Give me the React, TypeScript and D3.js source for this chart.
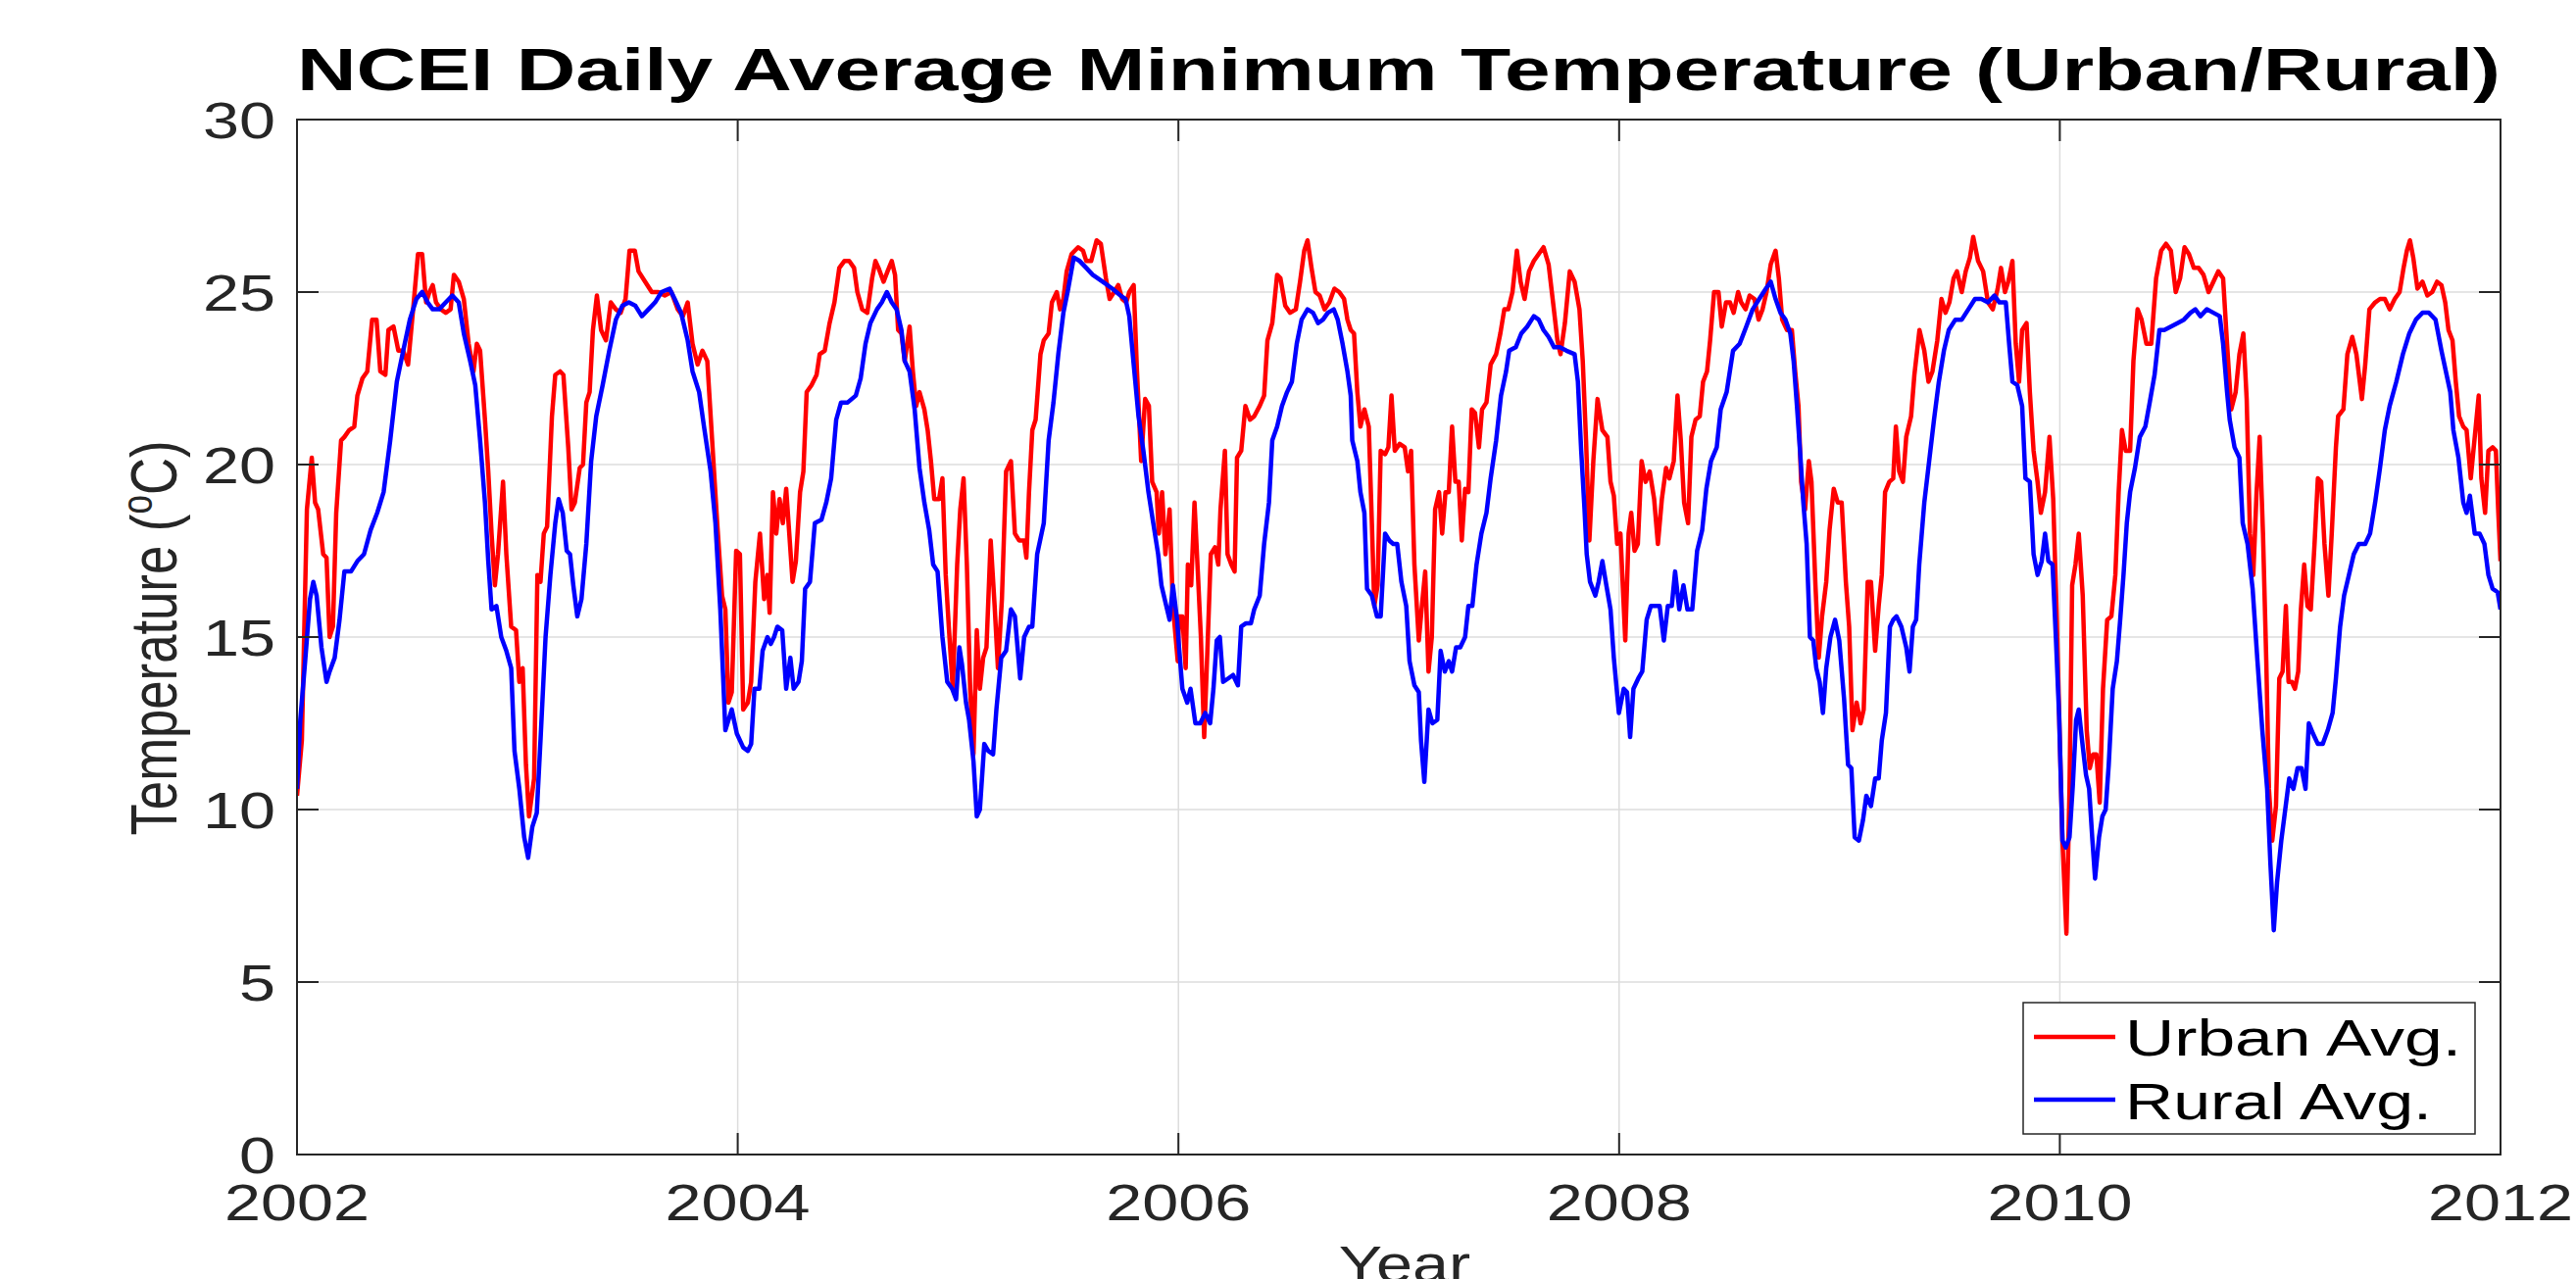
import React from "react";
import * as d3 from "d3";

type P = [number, number];

// [offset in years from block start, °C]
const urban2002: P[] = [[0.000,10.4],[0.022,12.0],[0.045,18.7],[0.067,20.2],[0.082,18.9],[0.096,18.7],[0.119,17.4],[0.134,17.3],[0.148,15.0],[0.163,15.3],[0.178,18.6],[0.200,20.7],[0.215,20.8],[0.237,21.0],[0.260,21.1],[0.274,22.0],[0.297,22.5],[0.319,22.7],[0.341,24.2],[0.361,24.2],[0.378,22.7],[0.401,22.6],[0.415,23.9],[0.438,24.0],[0.460,23.3],[0.482,23.3],[0.504,22.9],[0.527,24.5],[0.549,26.1],[0.568,26.1],[0.586,24.7],[0.601,25.0],[0.616,25.2],[0.631,24.7],[0.653,24.5],[0.675,24.4],[0.697,24.5],[0.712,25.5],[0.734,25.3],[0.757,24.8],[0.779,23.5],[0.801,22.7],[0.816,23.5],[0.831,23.3],[0.853,21.3],[0.868,19.8],[0.883,18.0],[0.898,16.5],[0.912,17.4],[0.935,19.5],[0.950,17.4],[0.972,15.3],[0.994,15.2],[1.009,13.7],[1.024,14.1],[1.039,11.3],[1.053,9.8],[1.076,10.9],[1.091,16.8],[1.105,16.6],[1.120,18.0],[1.135,18.2],[1.157,21.4],[1.172,22.6],[1.194,22.7],[1.209,22.6],[1.231,20.5],[1.246,18.7],[1.261,18.9],[1.283,19.9],[1.298,20.0],[1.313,21.8],[1.328,22.1],[1.343,23.9],[1.361,24.9],[1.380,23.9],[1.402,23.6],[1.424,24.7],[1.447,24.5],[1.469,24.4],[1.491,24.8],[1.509,26.2],[1.533,26.2],[1.550,25.6],[1.580,25.3],[1.610,25.0],[1.639,25.0],[1.669,24.9],[1.699,25.0],[1.728,24.5],[1.751,24.3],[1.773,24.7],[1.795,23.5],[1.818,22.9],[1.840,23.3],[1.862,23.0],[1.884,20.7],[1.907,18.3],[1.929,16.2],[1.944,15.8],[1.958,13.1],[1.973,13.4],[1.993,17.5],[2.010,17.4],[2.025,12.9]];
const urban2004: P[] = [[0.046,13.1],[0.061,13.7],[0.080,16.6],[0.101,18.0],[0.120,16.1],[0.135,16.8],[0.145,15.7],[0.160,19.2],[0.175,18.0],[0.190,19.0],[0.205,18.3],[0.220,19.3],[0.234,18.0],[0.249,16.6],[0.264,17.2],[0.283,19.2],[0.298,19.8],[0.313,22.1],[0.335,22.3],[0.358,22.6],[0.372,23.2],[0.395,23.3],[0.417,24.1],[0.439,24.7],[0.461,25.7],[0.484,25.9],[0.506,25.9],[0.528,25.7],[0.543,25.0],[0.565,24.5],[0.588,24.4],[0.610,25.4],[0.625,25.9],[0.639,25.7],[0.662,25.3],[0.680,25.6],[0.699,25.9],[0.714,25.5],[0.728,23.9],[0.743,23.8],[0.758,23.0],[0.780,24.0],[0.795,22.7],[0.810,21.7],[0.825,22.1],[0.847,21.6],[0.862,21.0],[0.877,20.1],[0.892,19.0],[0.914,19.0],[0.929,19.6],[0.944,16.8],[0.958,15.3],[0.976,13.5],[0.996,17.1],[1.010,18.7],[1.025,19.6],[1.040,17.1],[1.055,13.5],[1.070,11.6],[1.085,15.2],[1.099,13.5],[1.114,14.4],[1.129,14.7],[1.148,17.8],[1.166,15.9],[1.181,14.1],[1.199,16.1],[1.218,19.8],[1.240,20.1],[1.258,18.0],[1.277,17.8],[1.300,17.8],[1.310,17.3],[1.322,19.2],[1.337,21.0],[1.352,21.3],[1.374,23.2],[1.389,23.6],[1.411,23.8],[1.426,24.7],[1.448,25.0],[1.463,24.5],[1.478,24.8],[1.493,25.6],[1.515,26.1],[1.545,26.3],[1.567,26.2],[1.582,25.9],[1.604,25.9],[1.629,26.5],[1.648,26.4],[1.671,25.4],[1.688,24.8],[1.708,25.0],[1.727,25.2],[1.745,24.8],[1.763,24.7],[1.777,25.0],[1.797,25.2],[1.812,22.7],[1.831,20.1],[1.849,21.9],[1.866,21.7],[1.881,19.5],[1.901,19.2],[1.911,18.0],[1.926,19.2],[1.941,17.4],[1.960,18.7],[1.975,15.9],[1.997,14.3]];
const urban2006: P[] = [[0.003,15.6],[0.018,15.6],[0.033,14.1],[0.043,17.1],[0.058,16.5],[0.073,18.9],[0.088,16.9],[0.102,15.0],[0.117,12.1],[0.132,14.7],[0.147,17.4],[0.166,17.6],[0.181,17.1],[0.191,18.7],[0.211,20.4],[0.223,17.4],[0.240,17.1],[0.255,16.9],[0.266,20.2],[0.285,20.4],[0.304,21.7],[0.325,21.3],[0.344,21.4],[0.369,21.7],[0.389,22.0],[0.404,23.6],[0.426,24.1],[0.448,25.5],[0.463,25.4],[0.485,24.6],[0.507,24.4],[0.533,24.5],[0.552,25.3],[0.571,26.2],[0.586,26.5],[0.604,25.7],[0.622,25.0],[0.641,24.9],[0.663,24.5],[0.685,24.7],[0.708,25.1],[0.730,25.0],[0.752,24.8],[0.767,24.2],[0.782,23.9],[0.797,23.8],[0.812,22.1],[0.826,21.1],[0.844,21.6],[0.864,21.1],[0.878,18.3],[0.889,15.9],[0.904,16.5],[0.918,20.4],[0.938,20.3],[0.953,20.5],[0.967,22.0],[0.982,20.4],[1.004,20.6],[1.027,20.5],[1.042,19.8],[1.056,20.4],[1.071,17.1],[1.091,14.9],[1.105,15.9],[1.120,16.9],[1.135,14.0],[1.150,15.0],[1.165,18.7],[1.183,19.2],[1.197,18.0],[1.212,19.2],[1.227,19.2],[1.242,21.1],[1.257,19.5],[1.272,19.5],[1.286,17.8],[1.301,19.3],[1.316,19.2],[1.331,21.6],[1.346,21.5],[1.364,20.5],[1.378,21.6],[1.398,21.8],[1.417,22.9],[1.442,23.2],[1.461,23.8],[1.479,24.5],[1.497,24.5],[1.516,25.0],[1.536,26.2],[1.553,25.3],[1.571,24.8],[1.591,25.6],[1.613,25.9],[1.635,26.1],[1.657,26.3],[1.680,25.8],[1.702,24.6],[1.720,23.6],[1.734,23.2],[1.754,24.1],[1.776,25.6],[1.798,25.3],[1.820,24.5],[1.835,23.0],[1.850,20.7],[1.865,17.8],[1.883,20.1],[1.902,21.9],[1.924,21.0],[1.947,20.8],[1.961,19.5],[1.976,19.1],[1.991,17.7]];
const urban2008: P[] = [[0.006,18.0],[0.028,14.9],[0.043,18.0],[0.055,18.6],[0.070,17.5],[0.085,17.7],[0.102,20.1],[0.120,19.5],[0.139,19.8],[0.159,19.0],[0.176,17.7],[0.194,19.0],[0.213,19.9],[0.228,19.6],[0.248,20.1],[0.265,22.0],[0.280,20.7],[0.295,18.9],[0.313,18.3],[0.328,20.8],[0.347,21.3],[0.366,21.4],[0.381,22.4],[0.399,22.7],[0.413,23.6],[0.431,25.0],[0.451,25.0],[0.466,24.0],[0.485,24.7],[0.503,24.7],[0.520,24.4],[0.540,25.0],[0.554,24.7],[0.574,24.5],[0.592,24.9],[0.614,24.8],[0.633,24.2],[0.651,24.5],[0.669,25.0],[0.688,25.8],[0.710,26.2],[0.725,25.4],[0.740,24.2],[0.762,23.9],[0.784,23.9],[0.799,22.7],[0.814,21.7],[0.826,19.5],[0.844,18.7],[0.861,20.1],[0.873,19.5],[0.891,16.5],[0.906,14.4],[0.921,15.6],[0.940,16.6],[0.955,18.1],[0.974,19.3],[0.992,18.9],[1.010,18.9],[1.029,16.6],[1.044,15.3],[1.059,12.3],[1.078,13.1],[1.096,12.5],[1.110,12.9],[1.128,16.6],[1.143,16.6],[1.162,14.6],[1.178,15.9],[1.192,16.8],[1.207,19.2],[1.226,19.5],[1.244,19.6],[1.256,21.1],[1.271,19.8],[1.288,19.5],[1.303,20.8],[1.325,21.4],[1.340,22.6],[1.363,23.9],[1.385,23.3],[1.404,22.4],[1.422,22.7],[1.444,23.6],[1.463,24.8],[1.481,24.4],[1.499,24.7],[1.518,25.4],[1.533,25.6],[1.555,25.0],[1.573,25.6],[1.592,26.0],[1.607,26.6],[1.629,25.9],[1.652,25.6],[1.674,24.7],[1.696,24.5],[1.718,25.1],[1.733,25.7],[1.751,25.0],[1.766,25.3],[1.785,25.9],[1.800,23.5],[1.815,22.4],[1.829,23.9],[1.849,24.1],[1.864,22.1],[1.881,20.4],[1.899,19.5],[1.914,18.6],[1.933,19.2],[1.953,20.8],[1.970,19.0],[1.985,15.8],[2.000,12.0]];
const urban2010: P[] = [[0.012,9.1],[0.030,6.4],[0.044,10.6],[0.056,16.5],[0.071,17.1],[0.086,18.0],[0.104,16.2],[0.122,12.3],[0.136,11.2],[0.151,11.6],[0.166,11.6],[0.181,10.2],[0.196,13.5],[0.215,15.5],[0.234,15.6],[0.252,16.8],[0.267,19.2],[0.282,21.0],[0.299,20.4],[0.319,20.4],[0.334,23.0],[0.353,24.5],[0.371,24.2],[0.393,23.5],[0.415,23.5],[0.437,25.4],[0.460,26.2],[0.482,26.4],[0.504,26.2],[0.526,25.0],[0.546,25.4],[0.566,26.3],[0.586,26.1],[0.608,25.7],[0.630,25.7],[0.652,25.5],[0.675,25.0],[0.697,25.3],[0.719,25.6],[0.741,25.4],[0.759,23.5],[0.778,21.6],[0.798,22.1],[0.815,23.2],[0.833,23.8],[0.848,21.9],[0.863,18.0],[0.878,16.8],[0.893,19.2],[0.907,20.8],[0.922,18.0],[0.937,14.3],[0.949,10.6],[0.964,9.1],[0.981,10.1],[0.996,13.8],[1.011,14.0],[1.026,15.9],[1.038,13.7],[1.053,13.7],[1.067,13.5],[1.082,14.0],[1.094,15.8],[1.109,17.1],[1.124,15.9],[1.139,15.8],[1.156,17.7],[1.171,19.6],[1.186,19.5],[1.201,17.7],[1.219,16.2],[1.234,18.0],[1.253,20.5],[1.263,21.4],[1.287,21.6],[1.305,23.2],[1.327,23.7],[1.346,23.2],[1.371,21.9],[1.386,22.9],[1.405,24.5],[1.431,24.7],[1.453,24.8],[1.475,24.8],[1.497,24.5],[1.520,24.8],[1.542,25.0],[1.560,25.7],[1.575,26.2],[1.589,26.5],[1.604,26.0],[1.623,25.1],[1.646,25.3],[1.668,24.9],[1.690,25.0],[1.712,25.3],[1.732,25.2],[1.749,24.7],[1.764,23.9],[1.782,23.6],[1.797,22.4],[1.812,21.4],[1.831,21.1],[1.846,21.0],[1.865,19.6],[1.883,20.8],[1.901,22.0],[1.913,19.6],[1.930,18.6],[1.945,20.4],[1.964,20.5],[1.979,20.4],[1.990,18.6],[2.000,17.2]];

const rural2002: P[] = [[0.000,10.6],[0.015,12.6],[0.037,14.3],[0.059,16.1],[0.074,16.6],[0.089,16.2],[0.111,14.7],[0.134,13.7],[0.148,14.0],[0.171,14.4],[0.193,15.5],[0.215,16.9],[0.245,16.9],[0.274,17.2],[0.304,17.4],[0.334,18.1],[0.364,18.6],[0.393,19.2],[0.423,20.7],[0.453,22.4],[0.482,23.3],[0.512,24.2],[0.542,24.8],[0.568,25.0],[0.593,24.7],[0.616,24.5],[0.645,24.5],[0.675,24.7],[0.705,24.9],[0.734,24.7],[0.757,23.8],[0.786,23.0],[0.809,22.3],[0.831,20.7],[0.853,18.9],[0.868,17.2],[0.883,15.8],[0.905,15.9],[0.927,15.0],[0.950,14.6],[0.972,14.1],[0.987,11.7],[1.009,10.6],[1.031,9.2],[1.049,8.6],[1.068,9.5],[1.088,9.9],[1.105,12.0],[1.128,15.0],[1.150,16.8],[1.172,18.3],[1.187,19.0],[1.206,18.6],[1.224,17.5],[1.239,17.4],[1.254,16.5],[1.272,15.6],[1.291,16.1],[1.313,17.7],[1.335,20.1],[1.358,21.4],[1.387,22.3],[1.417,23.3],[1.447,24.2],[1.476,24.6],[1.506,24.7],[1.536,24.6],[1.565,24.3],[1.595,24.5],[1.625,24.7],[1.654,25.0],[1.691,25.1],[1.714,24.8],[1.743,24.4],[1.773,23.6],[1.795,22.7],[1.825,22.1],[1.847,21.1],[1.877,19.8],[1.899,18.3],[1.921,15.8],[1.944,12.3],[1.973,12.9],[1.996,12.2],[2.025,11.8]];
const rural2004: P[] = [[0.046,11.7],[0.061,11.9],[0.076,13.5],[0.098,13.5],[0.113,14.6],[0.135,15.0],[0.150,14.8],[0.165,15.0],[0.180,15.3],[0.202,15.2],[0.220,13.5],[0.239,14.4],[0.254,13.5],[0.276,13.7],[0.291,14.3],[0.306,16.4],[0.328,16.6],[0.350,18.3],[0.380,18.4],[0.402,18.9],[0.424,19.6],[0.447,21.3],[0.469,21.8],[0.499,21.8],[0.536,22.0],[0.558,22.5],[0.580,23.5],[0.602,24.1],[0.632,24.5],[0.654,24.7],[0.677,25.0],[0.699,24.7],[0.721,24.5],[0.743,23.9],[0.758,23.0],[0.780,22.7],[0.803,21.6],[0.825,19.9],[0.847,18.9],[0.869,18.1],[0.887,17.1],[0.907,16.9],[0.929,15.0],[0.951,13.7],[0.973,13.5],[0.991,13.2],[1.006,14.7],[1.018,14.2],[1.036,13.1],[1.050,12.6],[1.070,11.4],[1.085,9.8],[1.099,10.0],[1.119,11.9],[1.137,11.7],[1.159,11.6],[1.174,12.9],[1.196,14.4],[1.218,14.6],[1.240,15.8],[1.258,15.6],[1.282,13.8],[1.300,15.0],[1.322,15.3],[1.337,15.3],[1.359,17.4],[1.389,18.3],[1.411,20.7],[1.433,21.8],[1.455,23.2],[1.478,24.4],[1.500,25.1],[1.525,26.0],[1.552,25.9],[1.582,25.7],[1.611,25.5],[1.656,25.3],[1.700,25.1],[1.737,24.9],[1.760,24.8],[1.777,24.3],[1.797,22.9],[1.819,21.4],[1.841,20.4],[1.864,19.2],[1.886,18.3],[1.908,17.4],[1.923,16.5],[1.945,15.9],[1.960,15.5],[1.975,16.5],[1.994,15.5]];
const rural2006: P[] = [[0.003,14.7],[0.018,13.5],[0.040,13.1],[0.055,13.5],[0.077,12.5],[0.099,12.5],[0.122,12.8],[0.144,12.5],[0.159,13.5],[0.174,14.9],[0.188,15.0],[0.203,13.7],[0.226,13.8],[0.248,13.9],[0.270,13.6],[0.285,15.3],[0.307,15.4],[0.329,15.4],[0.344,15.8],[0.369,16.2],[0.389,17.7],[0.411,18.9],[0.426,20.7],[0.448,21.1],[0.470,21.7],[0.493,22.1],[0.515,22.4],[0.537,23.5],[0.559,24.2],[0.586,24.5],[0.611,24.4],[0.634,24.1],[0.656,24.2],[0.678,24.4],[0.705,24.5],[0.723,24.2],[0.745,23.5],[0.767,22.7],[0.782,22.0],[0.789,20.7],[0.812,20.1],[0.826,19.2],[0.844,18.6],[0.856,16.4],[0.878,16.2],[0.901,15.6],[0.918,15.6],[0.938,18.0],[0.957,17.8],[0.975,17.7],[0.993,17.7],[1.012,16.6],[1.034,15.9],[1.049,14.3],[1.071,13.6],[1.091,13.4],[1.101,12.0],[1.116,10.8],[1.135,12.9],[1.153,12.5],[1.175,12.6],[1.190,14.6],[1.209,14.0],[1.227,14.3],[1.242,14.0],[1.260,14.7],[1.279,14.7],[1.301,15.0],[1.316,15.9],[1.334,15.9],[1.353,17.1],[1.375,18.0],[1.398,18.6],[1.417,19.6],[1.442,20.7],[1.464,22.0],[1.487,22.7],[1.501,23.3],[1.531,23.4],[1.556,23.8],[1.583,24.0],[1.613,24.3],[1.635,24.2],[1.657,23.9],[1.680,23.7],[1.705,23.4],[1.731,23.4],[1.761,23.3],[1.798,23.2],[1.813,22.4],[1.828,20.4],[1.843,18.7],[1.853,17.4],[1.868,16.6],[1.892,16.2],[1.907,16.6],[1.924,17.2],[1.942,16.5],[1.961,15.8],[1.976,14.4],[1.999,12.8]];
const rural2008: P[] = [[0.021,13.5],[0.036,13.4],[0.050,12.1],[0.065,13.5],[0.087,13.8],[0.105,14.0],[0.125,15.5],[0.144,15.9],[0.162,15.9],[0.184,15.9],[0.203,14.9],[0.221,15.9],[0.239,15.9],[0.254,16.9],[0.273,15.8],[0.292,16.5],[0.310,15.8],[0.332,15.8],[0.354,17.5],[0.377,18.1],[0.396,19.3],[0.417,20.1],[0.443,20.5],[0.461,21.6],[0.488,22.1],[0.517,23.3],[0.547,23.5],[0.577,24.0],[0.606,24.5],[0.636,24.8],[0.666,25.1],[0.688,25.3],[0.710,24.8],[0.732,24.4],[0.755,24.2],[0.777,23.8],[0.792,23.0],[0.807,21.7],[0.821,20.4],[0.836,18.9],[0.851,17.7],[0.866,15.0],[0.881,14.9],[0.895,14.1],[0.910,13.7],[0.925,12.8],[0.940,14.1],[0.959,15.0],[0.980,15.5],[0.999,14.9],[1.021,13.2],[1.039,11.3],[1.054,11.2],[1.069,9.2],[1.088,9.1],[1.107,9.7],[1.122,10.4],[1.143,10.1],[1.162,10.9],[1.178,10.9],[1.192,12.0],[1.211,12.8],[1.229,15.3],[1.244,15.5],[1.259,15.6],[1.281,15.3],[1.303,14.7],[1.318,14.0],[1.333,15.3],[1.348,15.5],[1.362,17.1],[1.385,18.9],[1.407,20.1],[1.429,21.3],[1.451,22.4],[1.474,23.3],[1.496,23.9],[1.526,24.2],[1.555,24.2],[1.585,24.5],[1.615,24.8],[1.644,24.8],[1.674,24.7],[1.703,24.9],[1.726,24.7],[1.755,24.7],[1.770,23.5],[1.785,22.4],[1.807,22.3],[1.829,21.7],[1.844,19.6],[1.864,19.5],[1.881,17.4],[1.899,16.8],[1.918,17.2],[1.933,18.0],[1.948,17.2],[1.967,17.1],[1.982,15.0],[1.997,12.7],[2.012,9.1]];
const rural2010: P[] = [[0.027,8.9],[0.044,9.2],[0.059,10.7],[0.074,12.6],[0.086,12.9],[0.101,12.0],[0.119,11.0],[0.133,10.6],[0.148,9.1],[0.160,8.0],[0.178,9.2],[0.193,9.8],[0.208,10.0],[0.222,11.3],[0.240,13.5],[0.259,14.3],[0.274,15.5],[0.289,16.8],[0.304,18.3],[0.319,19.2],[0.341,19.9],[0.363,20.8],[0.388,21.1],[0.408,21.8],[0.430,22.6],[0.452,23.9],[0.474,23.9],[0.504,24.0],[0.534,24.1],[0.563,24.2],[0.593,24.4],[0.615,24.5],[0.638,24.3],[0.667,24.5],[0.697,24.4],[0.726,24.3],[0.741,23.5],[0.759,22.1],[0.771,21.3],[0.793,20.5],[0.815,20.2],[0.830,18.3],[0.852,17.7],[0.875,16.4],[0.897,14.3],[0.919,12.3],[0.941,10.6],[0.956,8.4],[0.971,6.5],[0.986,7.9],[1.005,9.1],[1.023,10.0],[1.041,10.9],[1.060,10.6],[1.079,11.2],[1.097,11.2],[1.115,10.6],[1.130,12.5],[1.149,12.2],[1.171,11.9],[1.193,11.9],[1.216,12.3],[1.238,12.8],[1.253,13.8],[1.272,15.3],[1.290,16.2],[1.312,16.8],[1.334,17.4],[1.357,17.7],[1.386,17.7],[1.408,18.0],[1.431,18.9],[1.453,19.9],[1.475,21.0],[1.497,21.7],[1.527,22.4],[1.557,23.2],[1.586,23.8],[1.616,24.2],[1.646,24.4],[1.675,24.4],[1.705,24.2],[1.732,23.3],[1.752,22.7],[1.772,22.1],[1.786,21.0],[1.809,20.2],[1.831,18.9],[1.846,18.6],[1.861,19.1],[1.883,18.0],[1.905,18.0],[1.927,17.7],[1.945,16.8],[1.964,16.4],[1.987,16.3],[2.000,15.8]];

const blockStarts = [2002, 2004, 2006, 2008, 2010];
const urbanBlocks = [urban2002, urban2004, urban2006, urban2008, urban2010];
const ruralBlocks = [rural2002, rural2004, rural2006, rural2008, rural2010];

const xTicks = [2002, 2004, 2006, 2008, 2010, 2012];
const yTicks = [0, 5, 10, 15, 20, 25, 30];
const seriesNames = ["Urban Avg.", "Rural Avg."];
const seriesColors = ["#ff0000", "#0000ff"];
const titleText = "NCEI Daily Average Minimum Temperature (Urban/Rural)";

const flatten = (blocks: P[][]): P[] =>
  blocks.flatMap((pts, i) => pts.map(([t, v]) => [blockStarts[i] + t, v] as P));

const W = 2628, H = 1305;
const L = 303, R = 2551, T = 122, B = 1178;
const FONT = "'Liberation Sans', Arial, Helvetica, sans-serif";
const SX = 1.28;
const AX = "#262626";

export default function App() {
  const x = d3.scaleLinear().domain([2002, 2012]).range([L, R]);
  const y = d3.scaleLinear().domain([0, 30]).range([B, T]);
  const line = d3.line<P>().x((d) => x(d[0])).y((d) => y(d[1]));
  const urban = flatten(urbanBlocks);
  const rural = flatten(ruralBlocks);
  const tick = 22;

  return (
    <svg width={W} height={H} style={{ position: "absolute", left: 0, top: 0, background: "#fff" }} fontFamily={FONT}>
      <defs>
        <clipPath id="plotclip">
          <rect x={L} y={T} width={R - L} height={B - T} />
        </clipPath>
      </defs>
      <rect x={0} y={0} width={W} height={H} fill="#fff" />
      {/* grid */}
      {xTicks.map((t) => (
        <line key={"gx" + t} x1={x(t)} x2={x(t)} y1={T} y2={B} stroke="#dcdcdc" strokeWidth={1.5} />
      ))}
      {yTicks.map((t) => (
        <line key={"gy" + t} x1={L} x2={R} y1={y(t)} y2={y(t)} stroke="#dcdcdc" strokeWidth={1.5} />
      ))}
      {/* data */}
      <g clipPath="url(#plotclip)" fill="none" strokeWidth={4.5} strokeLinejoin="round">
        <path d={line(urban) || ""} stroke={seriesColors[0]} />
        <path d={line(rural) || ""} stroke={seriesColors[1]} />
      </g>
      {/* axes box and ticks */}
      <rect x={L} y={T} width={R - L} height={B - T} fill="none" stroke={AX} strokeWidth={2} />
      {xTicks.map((t) => (
        <g key={"tx" + t} stroke={AX} strokeWidth={2}>
          <line x1={x(t)} x2={x(t)} y1={B} y2={B - tick} />
          <line x1={x(t)} x2={x(t)} y1={T} y2={T + tick} />
        </g>
      ))}
      {yTicks.map((t) => (
        <g key={"ty" + t} stroke={AX} strokeWidth={2}>
          <line x1={L} x2={L + tick} y1={y(t)} y2={y(t)} />
          <line x1={R} x2={R - tick} y1={y(t)} y2={y(t)} />
        </g>
      ))}
      {/* tick labels */}
      {yTicks.map((t) => (
        <text key={"ly" + t} transform={`translate(281,${y(t) + 18.5}) scale(${SX},1)`} textAnchor="end" fontSize={52} fill={AX}>
          {t}
        </text>
      ))}
      {xTicks.map((t) => (
        <text key={"lx" + t} transform={`translate(${x(t)},1245) scale(${SX},1)`} textAnchor="middle" fontSize={52} fill={AX}>
          {t}
        </text>
      ))}
      {/* axis labels */}
      <text transform={`translate(1433,1308) scale(${SX},1)`} textAnchor="middle" fontSize={52} fill={AX}>Year</text>
      <text transform={`translate(180,651) scale(1.25,1) rotate(-90)`} textAnchor="middle" fontSize={54} fill={AX} textLength={403} lengthAdjust="spacingAndGlyphs">
        Temperature (<tspan fontSize={36} dy={-20}>o</tspan><tspan dy={20}>C)</tspan>
      </text>
      {/* title */}
      <text x={L} y={92} fontSize={62} fontWeight="bold" fill="#000" textLength={R - L} lengthAdjust="spacingAndGlyphs">
        {titleText}
      </text>
      {/* legend */}
      <rect x={2064} y={1023} width={461} height={134} fill="#fff" stroke={AX} strokeWidth={1.5} />
      {seriesNames.map((n, i) => (
        <g key={n}>
          <line x1={2075} x2={2158} y1={1058 + i * 64} y2={1058 + i * 64} stroke={seriesColors[i]} strokeWidth={4.5} />
          <text x={2168} y={1077 + i * 65} fontSize={52} fill="#000" textLength={i === 0 ? 343 : 313} lengthAdjust="spacingAndGlyphs">
            {n}
          </text>
        </g>
      ))}
    </svg>
  );
}
